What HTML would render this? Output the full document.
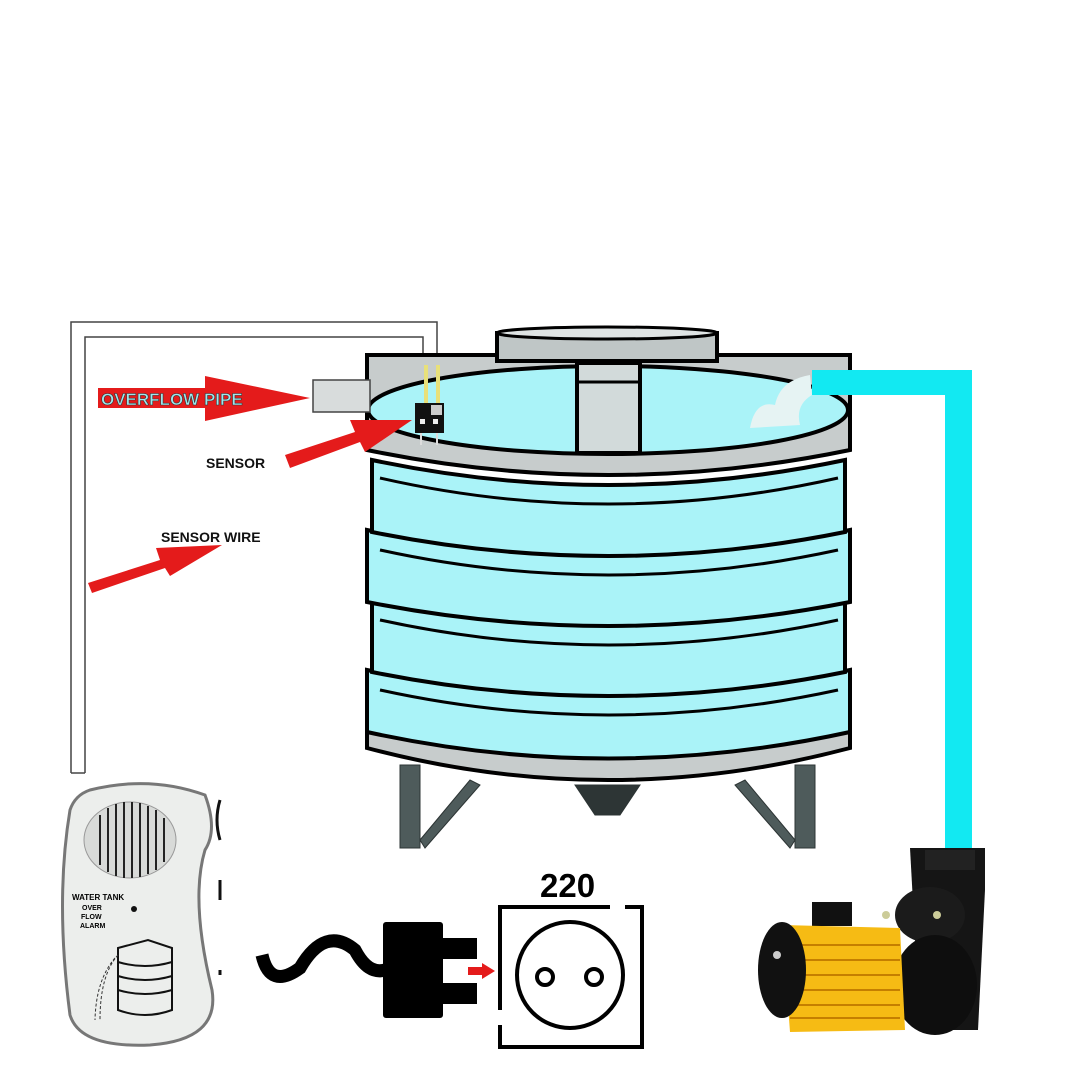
<!DOCTYPE html>
<html><head><meta charset="utf-8"><style>html,body{margin:0;padding:0;background:#fff}svg{display:block}</style></head>
<body>
<svg width="1080" height="1080" viewBox="0 0 1080 1080" xmlns="http://www.w3.org/2000/svg" font-family="Liberation Sans, sans-serif">
<rect width="1080" height="1080" fill="#fff"/>
<path d="M71 773 V322 H437 V365 M85 773 V337 H423 V365" fill="none" stroke="#444" stroke-width="1.5"/>
<line x1="71" y1="773" x2="85" y2="773" stroke="#444" stroke-width="1.5"/>
<g fill="#4e5b5b" stroke="#2c3434" stroke-width="1">
<rect x="400" y="765" width="20" height="83"/>
<polygon points="420,840 470,780 480,785 425,848"/>
<rect x="795" y="765" width="20" height="83"/>
<polygon points="795,840 745,780 735,785 790,848"/>
<polygon points="575,785 640,785 620,815 595,815" fill="#2d3535"/>
</g>
<path d="M367 725 V748 Q608 812 850 748 V725 Z" fill="#c7cccc" stroke="#000" stroke-width="4"/>
<g fill="#aaf3f8" stroke="#000" stroke-width="4">
<path d="M367 670 V732 Q608 785 850 732 V670 Q608 720 367 670Z"/>
<path d="M372 600 V672 Q608 720 845 672 V600 Q608 650 372 600Z"/>
<path d="M367 530 V602 Q608 650 850 602 V530 Q608 580 367 530Z"/>
<path d="M372 460 V532 Q608 580 845 532 V460 Q608 510 372 460Z"/>
</g>
<path d="M380 690 Q608 740 838 690" fill="none" stroke="#000" stroke-width="3"/>
<path d="M380 620 Q608 670 838 620" fill="none" stroke="#000" stroke-width="3"/>
<path d="M380 550 Q608 600 838 550" fill="none" stroke="#000" stroke-width="3"/>
<path d="M380 478 Q608 530 838 478" fill="none" stroke="#000" stroke-width="3"/>
<path d="M367 355 H850 V450 Q608 500 367 450 Z" fill="#c7cccc" stroke="#000" stroke-width="4"/>
<rect x="497" y="333" width="220" height="28" fill="#bfc6c6" stroke="#000" stroke-width="4"/>
<ellipse cx="607" cy="333" rx="110" ry="6" fill="#dfe4e4" stroke="#000" stroke-width="3"/>
<ellipse cx="608" cy="410" rx="240" ry="44" fill="#aaf3f8" stroke="#000" stroke-width="4"/>
<rect x="577" y="363" width="63" height="90" fill="#d2dada" stroke="#000" stroke-width="4"/>
<line x1="577" y1="382" x2="640" y2="382" stroke="#000" stroke-width="3"/>
<path d="M750 428 Q755 400 775 405 Q780 380 810 375 L812 395 Q795 405 800 425 Z" fill="#e6f3f3"/>
<path d="M812 370 H972 V848 H945 V395 H812 Z" fill="#12e9f2"/>
<rect x="313" y="380" width="57" height="32" fill="#d8dcdc" stroke="#444" stroke-width="1.5"/>
<rect x="424" y="365" width="4" height="38" fill="#e8e07a"/><rect x="436" y="365" width="4" height="38" fill="#e8e07a"/>
<rect x="415" y="403" width="29" height="30" fill="#111"/>
<rect x="431" y="405" width="11" height="10" fill="#ccc"/>
<rect x="420" y="419" width="5" height="5" fill="#eee"/><rect x="433" y="419" width="5" height="5" fill="#eee"/>
<line x1="421" y1="433" x2="421" y2="445" stroke="#ddd" stroke-width="2"/><line x1="437" y1="433" x2="437" y2="445" stroke="#ddd" stroke-width="2"/>
<polygon points="98,388 205,388 205,376 310,398 205,421 205,408 98,408" fill="#e41b1b"/>
<text x="101" y="405" font-size="17" font-weight="bold" fill="#9fe6ec" stroke="#333" stroke-width="0.6">OVERFLOW PIPE</text>
<polygon points="285,455 355,432 350,420 412,420 365,452 360,442 290,468" fill="#e41b1b"/>
<text x="206" y="468" font-size="14" font-weight="bold" fill="#111">SENSOR</text>
<polygon points="88,583 160,560 156,548 222,545 170,576 165,568 92,593" fill="#e41b1b"/>
<text x="161" y="542" font-size="14" font-weight="bold" fill="#111">SENSOR WIRE</text>
<path d="M90 790 Q150 775 205 795 Q218 830 205 850 Q190 900 212 990 Q220 1040 150 1045 Q80 1048 70 1015 Q55 900 70 810 Q75 795 90 790Z" fill="#eceeec" stroke="#777" stroke-width="3"/>
<ellipse cx="130" cy="840" rx="46" ry="38" fill="#d8dad8" stroke="#999"/>
<g stroke="#222" stroke-width="2">
<line x1="100" y1="815" x2="100" y2="865"/><line x1="108" y1="808" x2="108" y2="872"/><line x1="116" y1="804" x2="116" y2="876"/><line x1="124" y1="802" x2="124" y2="878"/><line x1="132" y1="802" x2="132" y2="878"/><line x1="140" y1="803" x2="140" y2="877"/><line x1="148" y1="806" x2="148" y2="874"/><line x1="156" y1="810" x2="156" y2="870"/><line x1="164" y1="818" x2="164" y2="862"/>
</g>
<text x="72" y="900" font-size="8" font-weight="bold">WATER TANK</text>
<text x="82" y="910" font-size="7" font-weight="bold">OVER</text>
<text x="81" y="919" font-size="7" font-weight="bold">FLOW</text>
<text x="80" y="928" font-size="7" font-weight="bold">ALARM</text>
<circle cx="134" cy="909" r="3" fill="#111"/>
<path d="M118 948 L148 940 L172 948 V1010 Q145 1020 118 1010 Z" fill="none" stroke="#111" stroke-width="2"/>
<path d="M118 962 Q145 970 172 962 M118 976 Q145 984 172 976 M118 990 Q145 998 172 990" fill="none" stroke="#111" stroke-width="2"/>
<path d="M118 955 Q100 975 100 1020 M115 958 Q96 980 95 1020" fill="none" stroke="#333" stroke-dasharray="3 2"/>
<path d="M220 800 Q214 820 220 840 M220 880 V900 M220 970 V975" stroke="#111" stroke-width="3" fill="none"/>
<path d="M262 955 Q270 990 300 968 Q325 925 355 950 Q368 975 385 970" fill="none" stroke="#000" stroke-width="13"/>
<rect x="383" y="922" width="60" height="96" rx="3" fill="#000"/>
<rect x="440" y="938" width="37" height="21" fill="#000"/><rect x="440" y="983" width="37" height="21" fill="#000"/>
<polygon points="468,967 482,967 482,963 495,971 482,979 482,975 468,975" fill="#e41b1b"/>
<path d="M500 1025 V1047 H642 V907 H625 M610 907 H500 V1010" fill="none" stroke="#000" stroke-width="4"/>
<circle cx="570" cy="975" r="53" fill="none" stroke="#000" stroke-width="4"/>
<circle cx="545" cy="977" r="8" fill="none" stroke="#000" stroke-width="4"/>
<circle cx="594" cy="977" r="8" fill="none" stroke="#000" stroke-width="4"/>
<text x="540" y="897" font-size="33" font-weight="bold" fill="#000">220</text>
<rect x="812" y="902" width="40" height="24" fill="#111"/>
<path d="M910 848 H985 L985 890 L978 1030 H920 Z" fill="#151515"/>
<path d="M925 850 H975 V870 H925Z" fill="#222"/>
<ellipse cx="930" cy="915" rx="35" ry="28" fill="#1b1b1b"/>
<ellipse cx="935" cy="985" rx="42" ry="50" fill="#0e0e0e"/>
<path d="M782 925 L900 928 L905 1030 L790 1032 Z" fill="#f6bb14"/>
<g stroke="#c57f00" stroke-width="2"><line x1="790" y1="945" x2="900" y2="945"/><line x1="790" y1="960" x2="900" y2="960"/><line x1="790" y1="975" x2="900" y2="975"/><line x1="790" y1="990" x2="900" y2="990"/><line x1="790" y1="1005" x2="900" y2="1005"/><line x1="790" y1="1018" x2="900" y2="1018"/></g>
<ellipse cx="782" cy="970" rx="24" ry="48" fill="#111"/>
<circle cx="777" cy="955" r="4" fill="#ccc"/>
<circle cx="886" cy="915" r="4" fill="#cc9"/><circle cx="937" cy="915" r="4" fill="#cc9"/>
</svg>
</body></html>
